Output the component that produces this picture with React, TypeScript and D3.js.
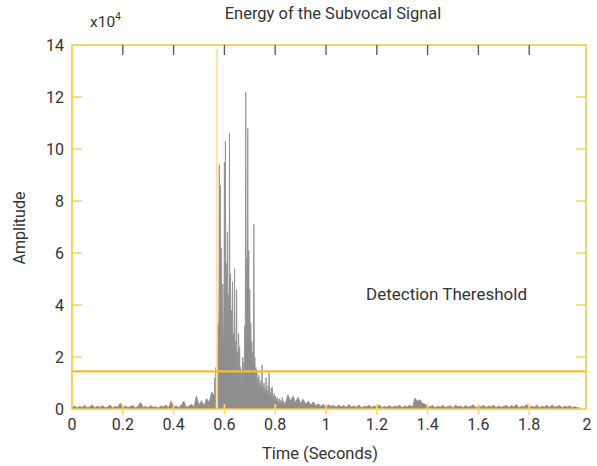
import React from 'react';
import * as d3 from 'd3';

// amplitude in units of 1e4, sampled every 0.01 s over the whole record
const noise = [
  0.05, 0.12, 0.04, 0.10, 0.06, 0.14, 0.05, 0.09, 0.16, 0.04,
  0.11, 0.06, 0.13, 0.05, 0.08, 0.15, 0.04, 0.10, 0.07, 0.22,
  0.05, 0.12, 0.06, 0.09, 0.14, 0.04, 0.11, 0.26, 0.06, 0.10,
  0.05, 0.13, 0.07, 0.09, 0.04, 0.12, 0.08, 0.15, 0.05, 0.30,
  0.08, 0.12, 0.06, 0.14, 0.30, 0.07, 0.11, 0.18, 0.09, 0.50,
  0.15, 0.32, 0.12, 0.40, 0.25, 0.65, 0.45, 0.90, 0.50, 1.00,
  0.80, 0.90, 0.80, 0.90, 0.80, 0.90, 0.80, 0.90, 0.80, 0.90,
  0.80, 0.90, 0.80, 0.90, 0.80, 0.90, 0.80, 0.90, 0.80, 0.90,
  0.80, 0.90, 0.80, 0.90, 0.80, 0.55, 0.30, 0.50, 0.25, 0.45,
  0.20, 0.38, 0.18, 0.30, 0.15, 0.28, 0.12, 0.20, 0.10, 0.18,
  0.08, 0.16, 0.10, 0.14, 0.07, 0.15, 0.09, 0.13, 0.06, 0.17,
  0.08, 0.12, 0.07, 0.15, 0.05, 0.11, 0.09, 0.14, 0.06, 0.12,
  0.08, 0.16, 0.05, 0.10, 0.07, 0.13, 0.06, 0.11, 0.09, 0.14,
  0.05, 0.12, 0.08, 0.15, 0.06, 0.42, 0.30, 0.35, 0.22, 0.18,
  0.10, 0.09, 0.13, 0.05, 0.11, 0.07, 0.14, 0.06, 0.10, 0.12,
  0.05, 0.15, 0.08, 0.11, 0.06, 0.13, 0.07, 0.10, 0.16, 0.05,
  0.12, 0.08, 0.14, 0.06, 0.11, 0.09, 0.15, 0.05, 0.12, 0.07,
  0.10, 0.14, 0.06, 0.13, 0.08, 0.17, 0.05, 0.11, 0.09, 0.18,
  0.06, 0.12, 0.07, 0.15, 0.05, 0.11, 0.08, 0.14, 0.06, 0.16,
  0.07, 0.10, 0.13, 0.05, 0.11, 0.08, 0.12, 0.06, 0.09, 0.05,
  0.04,
];
const noiseStep = 0.01;

// the spoken burst, sampled every 0.002 s starting at 0.56 s
const burst = [
  0.5, 1.2, 0.6, 1.6, 0.9, 2.2, 3.2, 1.8, 3.3, 2.4,
  9.4, 2.8, 8.6, 3.1, 6.2, 2.6, 3.4, 4.8, 2.2, 3.0,
  9.5, 3.5, 10.3, 2.8, 5.6, 2.4, 6.8, 3.1, 4.4, 2.2,
  10.6, 3.0, 5.2, 2.5, 3.8, 1.9, 4.9, 2.2, 2.9, 1.6,
  5.4, 1.8, 2.6, 1.3, 4.6, 1.5, 2.2, 1.1, 2.9, 1.2,
  2.4, 0.9, 1.6, 0.8, 1.4, 0.7, 2.0, 1.0, 1.8, 1.3,
  3.2, 2.0, 12.2, 3.6, 5.8, 4.2, 10.8, 3.4, 6.1, 2.8,
  4.6, 2.1, 3.3, 1.7, 2.6, 1.5, 2.2, 1.2, 7.1, 1.4,
  2.0, 1.0, 1.6, 0.8, 1.5, 0.7, 1.2, 0.6, 1.3, 0.7,
  1.0, 0.5, 1.1, 0.6, 1.7, 0.5, 0.9, 0.4, 1.0, 0.5,
  0.8, 0.4, 1.2, 0.5, 0.7, 0.3, 0.9, 0.4, 1.4, 0.5,
  0.6, 0.3, 0.8, 0.3, 0.85, 0.4, 0.5, 0.2, 0.6, 0.3,
  0.5, 0.2, 0.4, 0.2, 0.45, 0.2, 0.3, 0.15, 0.4, 0.2,
  0.35, 0.15, 0.3, 0.1, 0.45, 0.15, 0.3, 0.1, 0.25, 0.1,
  0.2,
];
const burstStart = 0.56;
const burstStep = 0.002;

const xTicks = [0, 0.2, 0.4, 0.6, 0.8, 1, 1.2, 1.4, 1.6, 1.8, 2];
const yTicks = [0, 2, 4, 6, 8, 10, 12, 14];
const threshold = 1.45;
const onset = 0.57;

const W = 597;
const H = 466;
const left = 72;
const right = 586;
const top = 45;
const bottom = 409;

const gold = '#f3bd2f';
const frame = '#f7c840';
const textColor = '#333';
const font = 'Roboto, sans-serif';

export default function App() {
  const x = d3.scaleLinear().domain([0, 2]).range([left, 580]);
  const y = d3.scaleLinear().domain([0, 14]).range([bottom, top]);

  const burstEnd = burstStart + burstStep * (burst.length - 1);
  const pts: [number, number][] = [];
  noise.forEach((v, i) => {
    const t = i * noiseStep;
    if (t < burstStart) pts.push([t, v]);
  });
  burst.forEach((v, i) => pts.push([burstStart + i * burstStep, v]));
  noise.forEach((v, i) => {
    const t = i * noiseStep;
    if (t > burstEnd) pts.push([t, v]);
  });

  const area = d3.area<[number, number]>()
    .x(d => x(d[0]))
    .y0(y(0))
    .y1(d => y(d[1]));
  const line = d3.line<[number, number]>()
    .x(d => x(d[0]))
    .y(d => y(d[1]));

  return (
    <svg width={W} height={H} style={{ position: 'absolute', left: 0, top: 0 }}>
      <rect width={W} height={H} fill="#fff" />
      <text x={333} y={19} textAnchor="middle" fontFamily={font} fontSize={16.5} fill={textColor}>
        Energy of the Subvocal Signal
      </text>
      <text x={90} y={27} fontFamily={font} fontSize={15.5} fill={textColor}>
        x10<tspan fontSize={10} dy={-7}>4</tspan>
      </text>

      <path d={area(pts) || ''} fill="#8e8e8e" stroke="none" />
      <path d={line(pts) || ''} fill="none" stroke="#8e8e8e" strokeWidth={0.8} />

      <line x1={x(onset)} x2={x(onset)} y1={49} y2={bottom} stroke="#fbe2a6" strokeWidth={2} />
      <line x1={left} x2={right} y1={y(threshold)} y2={y(threshold)} stroke={gold} strokeWidth={2.2} />

      <rect x={left} y={top} width={right - left} height={bottom - top} fill="none" stroke={frame} strokeWidth={1.6} />

      {yTicks.map(t => (
        <g key={'y' + t}>
          {t > 0 && t < 14 && (
            <>
              <line x1={left} x2={left + 10} y1={y(t)} y2={y(t)} stroke={frame} strokeWidth={1.3} />
              <line x1={right - 10} x2={right} y1={y(t)} y2={y(t)} stroke={frame} strokeWidth={1.3} />
            </>
          )}
          <text x={64} y={y(t) + 5.5} textAnchor="end" fontFamily={font} fontSize={16} fill={textColor}>
            {t}
          </text>
        </g>
      ))}

      {xTicks.map(t => (
        <g key={'x' + t}>
          {t > 0 && t < 2 && (
            <>
              <line x1={x(t)} x2={x(t)} y1={top} y2={top + 10} stroke="#555" strokeWidth={1.3} />
              <line x1={x(t)} x2={x(t)} y1={bottom - 5} y2={bottom + 6} stroke="#fbd874" strokeWidth={1.6} />
            </>
          )}
          <text x={t === 2 ? right + 1 : x(t)} y={430} textAnchor="middle" fontFamily={font} fontSize={16} fill={textColor}>
            {t}
          </text>
        </g>
      ))}

      <text x={320} y={459} textAnchor="middle" fontFamily={font} fontSize={16.5} fill={textColor}>
        Time (Seconds)
      </text>
      <text transform="translate(25,228) rotate(-90)" textAnchor="middle" fontFamily={font} fontSize={16} fill={textColor}>
        Amplitude
      </text>
      <text x={366} y={300} fontFamily={font} fontSize={17} fill={textColor}>
        Detection Thereshold
      </text>
    </svg>
  );
}
